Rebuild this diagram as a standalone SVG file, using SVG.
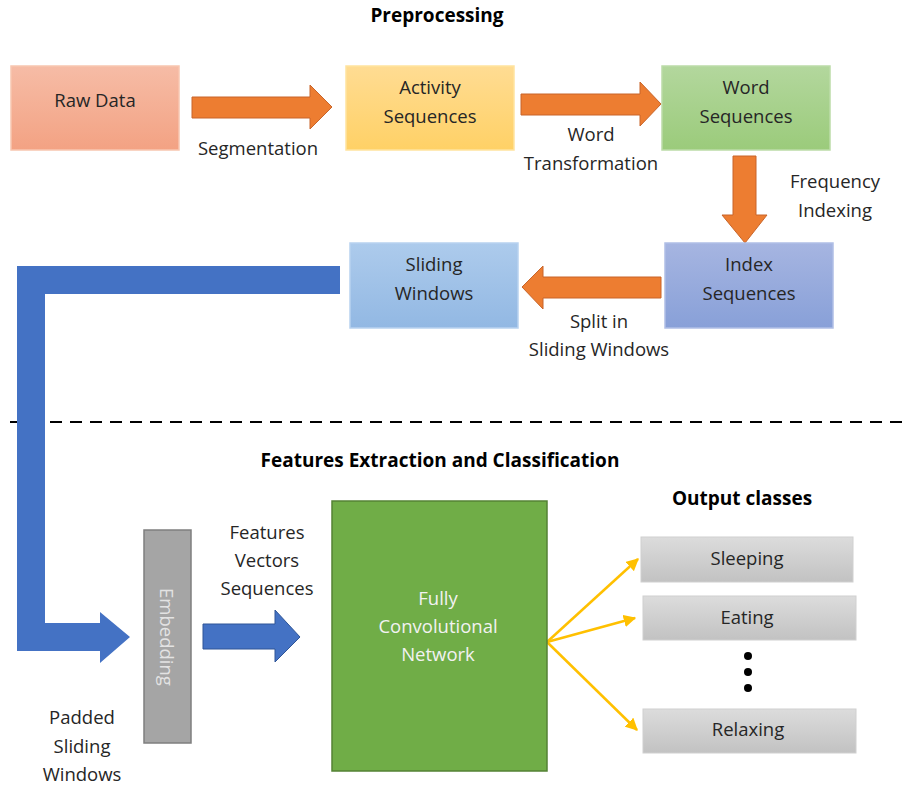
<svg xmlns="http://www.w3.org/2000/svg" width="904" height="789" viewBox="0 0 904 789">
<defs>
<linearGradient id="gRaw" x1="0" y1="0" x2="0" y2="1"><stop offset="0" stop-color="#f6bca6"/><stop offset="1" stop-color="#f3a283"/></linearGradient>
<linearGradient id="gAct" x1="0" y1="0" x2="0" y2="1"><stop offset="0" stop-color="#ffdc93"/><stop offset="1" stop-color="#ffd166"/></linearGradient>
<linearGradient id="gWord" x1="0" y1="0" x2="0" y2="1"><stop offset="0" stop-color="#b3d79d"/><stop offset="1" stop-color="#9bcb7b"/></linearGradient>
<linearGradient id="gIdx" x1="0" y1="0" x2="0" y2="1"><stop offset="0" stop-color="#a6b5e1"/><stop offset="1" stop-color="#88a0d8"/></linearGradient>
<linearGradient id="gSw" x1="0" y1="0" x2="0" y2="1"><stop offset="0" stop-color="#adcbec"/><stop offset="1" stop-color="#92b8e3"/></linearGradient>
<linearGradient id="gOut" x1="0" y1="0" x2="0" y2="1"><stop offset="0" stop-color="#dcdcdc"/><stop offset="1" stop-color="#c2c2c2"/></linearGradient>
<marker id="yh" viewBox="0 0 10 10" refX="9" refY="5" markerWidth="5" markerHeight="5" orient="auto" markerUnits="strokeWidth"><path d="M0,0 L10,5 L0,10 z" fill="#ffc000"/></marker>
</defs>
<style>
text{font-family:"Open Sans","Noto Sans","Liberation Sans",sans-serif;font-size:18.5px;fill:#262626;text-anchor:middle}
.b{font-weight:bold;fill:#000;font-size:19px}
.w{fill:#f2f2f2}
.box{stroke-width:1.5}
.oa{fill:#ed7d31;stroke:#c8652a;stroke-width:1}
.ba{fill:#4472c4}
.out{fill:url(#gOut);stroke:#d0d0d0;stroke-width:1}
.ya{stroke:#ffc000;stroke-width:2.5;fill:none;marker-end:url(#yh)}
</style>

<text class="b" x="437" y="22">Preprocessing</text>
<text class="b" x="440" y="467">Features Extraction and Classification</text>
<text class="b" x="742" y="505">Output classes</text>

<line x1="10" y1="422" x2="904" y2="422" stroke="#000" stroke-width="2.2" stroke-dasharray="12,8"/>

<g id="connectors">
<polygon class="oa" points="192,97 310,97 310,85 332,107 310,129 310,118 192,118"/>
<polygon class="oa" points="521,94 640,94 640,82 661,104 640,126 640,115 521,115"/>
<polygon class="oa" points="733,156 756,156 756,215 767,215 745,243 722,215 733,215"/>
<polygon class="oa" points="661,277 543,277 543,266 522,287 543,309 543,298 661,298"/>
<polygon class="ba" points="340,266 340,294 45,294 45,623 100,623 100,612 130,637 100,663 100,651 17,651 17,266"/>
<polygon class="ba" points="203,624 275,624 275,610 300,637 275,662 275,649 203,649" stroke="#2f5597" stroke-width="1"/>
<line class="ya" x1="547" y1="642" x2="638" y2="559"/>
<line class="ya" x1="547" y1="642" x2="635" y2="618"/>
<line class="ya" x1="547" y1="642" x2="637" y2="730"/>
</g>
<g id="labels">
<text x="258" y="155">Segmentation</text>
<text x="591" y="141">Word</text>
<text x="591" y="170">Transformation</text>
<text x="835" y="188">Frequency</text>
<text x="835" y="217">Indexing</text>
<text x="599" y="328">Split in</text>
<text x="599" y="356">Sliding Windows</text>
<text x="267" y="539">Features</text>
<text x="267" y="567">Vectors</text>
<text x="267" y="595">Sequences</text>
<text x="82" y="724">Padded</text>
<text x="82" y="753">Sliding</text>
<text x="82" y="781">Windows</text>
</g>

<g id="raw"><rect class="box" x="11" y="66" width="168" height="84" fill="url(#gRaw)" stroke="#f8c6b0"/><text x="95" y="107">Raw Data</text></g>
<g id="activity"><rect class="box" x="346" y="66" width="168" height="84" fill="url(#gAct)" stroke="#ffe39f"/><text x="430" y="94">Activity</text><text x="430" y="123">Sequences</text></g>
<g id="word"><rect class="box" x="662" y="66" width="168" height="84" fill="url(#gWord)" stroke="#bcdca8"/><text x="746" y="94">Word</text><text x="746" y="123">Sequences</text></g>
<g id="index"><rect class="box" x="665" y="243" width="168" height="85" fill="url(#gIdx)" stroke="#b0bfe6"/><text x="749" y="271">Index</text><text x="749" y="300">Sequences</text></g>
<g id="sliding"><rect class="box" x="350" y="243" width="168" height="85" fill="url(#gSw)" stroke="#b8d2ef"/><text x="434" y="271">Sliding</text><text x="434" y="300">Windows</text></g>
<g id="embedding"><rect x="144" y="530" width="47" height="213" fill="#a5a5a5" stroke="#7f7f7f" stroke-width="1.5"/><text transform="translate(160,637) rotate(90)" style="fill:#e3e3e3">Embedding</text></g>
<g id="fcn"><rect x="332" y="501" width="215" height="270" fill="#70ad47" stroke="#548235" stroke-width="1.5"/><text class="w" x="438" y="605">Fully</text><text class="w" x="438" y="633">Convolutional</text><text class="w" x="438" y="661">Network</text></g>
<g id="sleeping"><rect class="out" x="641" y="537" width="212" height="45"/><text x="747" y="565">Sleeping</text></g>
<g id="eating"><rect class="out" x="643" y="596" width="213" height="44"/><text x="747" y="624">Eating</text></g>
<g id="dots"><circle cx="748" cy="656" r="4" fill="#000"/><circle cx="748" cy="672" r="4" fill="#000"/><circle cx="748" cy="688" r="4" fill="#000"/></g>
<g id="relaxing"><rect class="out" x="643" y="709" width="213" height="44"/><text x="748" y="736">Relaxing</text></g>
</svg>
